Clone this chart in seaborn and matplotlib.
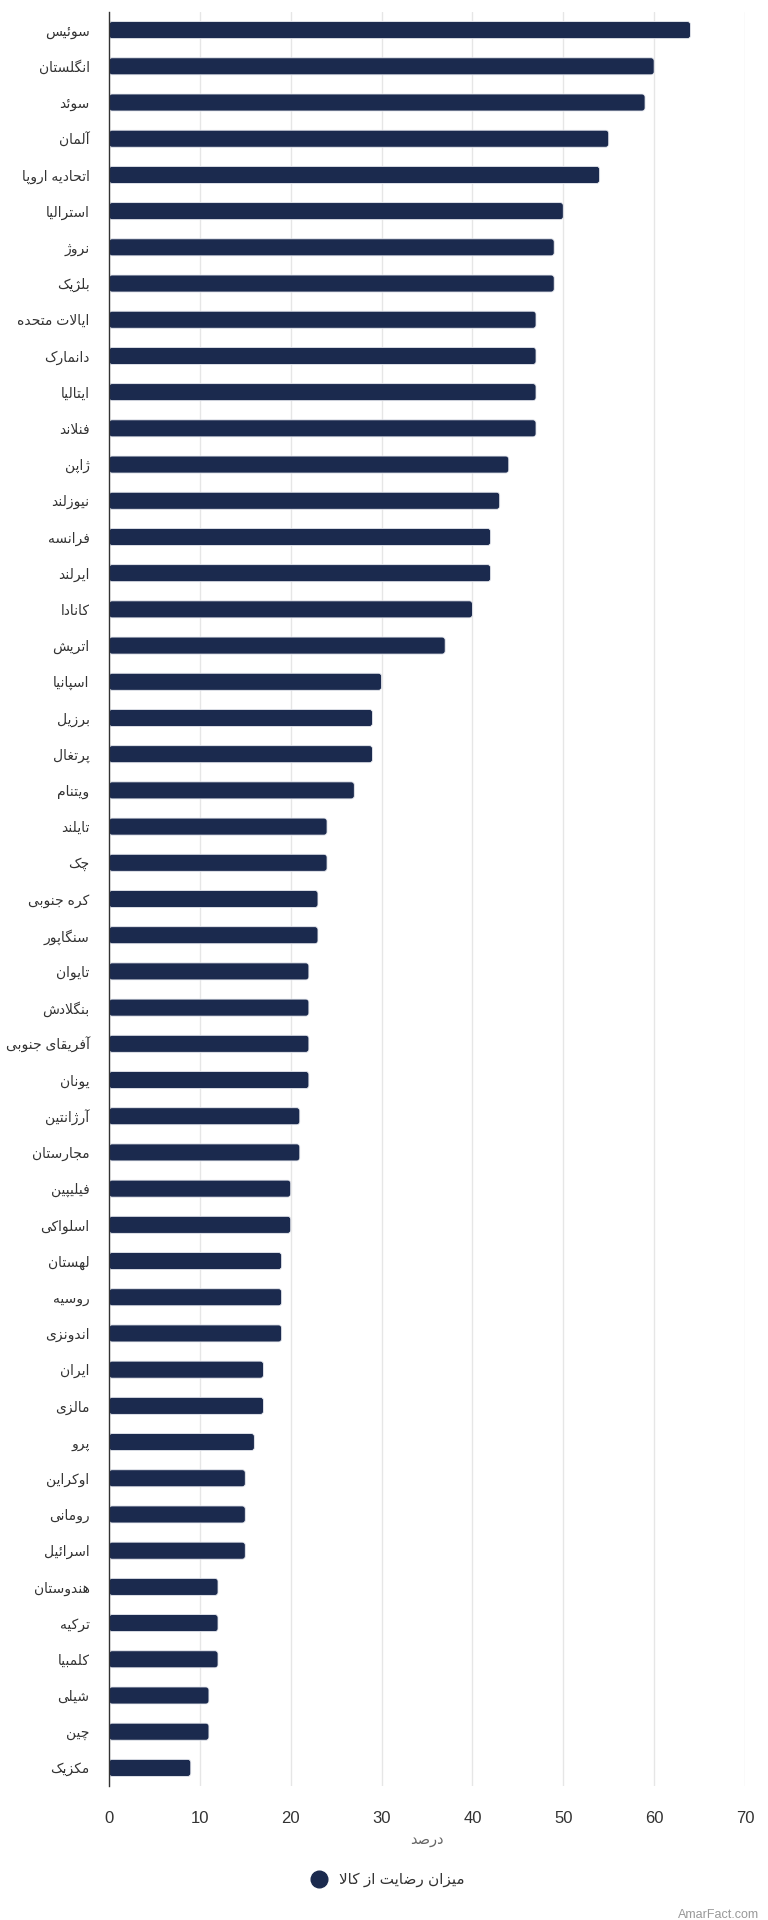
import matplotlib
matplotlib.use("Agg")
import matplotlib.pyplot as plt
from matplotlib.lines import Line2D
from matplotlib.patches import FancyBboxPatch
import pandas as pd
import seaborn as sns

countries = [
    "سوئیس", "انگلستان", "سوئد", "آلمان", "اتحادیه اروپا", "استرالیا", "نروژ",
    "بلژیک", "ایالات متحده", "دانمارک", "ایتالیا", "فنلاند", "ژاپن", "نیوزلند",
    "فرانسه", "ایرلند", "کانادا", "اتریش", "اسپانیا", "برزیل", "پرتغال",
    "ویتنام", "تایلند", "چک", "کره جنوبی", "سنگاپور", "تایوان", "بنگلادش",
    "آفریقای جنوبی", "یونان", "آرژانتین", "مجارستان", "فیلیپین", "اسلواکی",
    "لهستان", "روسیه", "اندونزی", "ایران", "مالزی", "پرو", "اوکراین", "رومانی",
    "اسرائیل", "هندوستان", "ترکیه", "کلمبیا", "شیلی", "چین", "مکزیک",
]
satisfaction = [
    64, 60, 59, 55, 54, 50, 49, 49, 47, 47, 47, 47, 44, 43, 42, 42, 40, 37,
    30, 29, 29, 27, 24, 24, 23, 23, 22, 22, 22, 22, 21, 21, 20, 20, 19, 19,
    19, 17, 17, 16, 15, 15, 15, 12, 12, 12, 11, 11, 9,
]
x_ticks = [0, 10, 20, 30, 40, 50, 60, 70]
x_title = "درصد"
series_name = "میزان رضایت از کالا"
credit = "AmarFact.com"


# matplotlib has no arabic shaping, so pick presentation forms by hand
def _dual(start):
    return tuple(chr(start + k) for k in range(4))


def _right(start):
    return (chr(start), chr(start + 1), None, None)


FORMS = {
    "ء": ("\uFE80", None, None, None),
    "آ": _right(0xFE81), "أ": _right(0xFE83), "ؤ": _right(0xFE85),
    "إ": _right(0xFE87), "ئ": _dual(0xFE89), "ا": _right(0xFE8D),
    "ب": _dual(0xFE8F), "ة": _right(0xFE93), "ت": _dual(0xFE95),
    "ث": _dual(0xFE99), "ج": _dual(0xFE9D), "ح": _dual(0xFEA1),
    "خ": _dual(0xFEA5), "د": _right(0xFEA9), "ذ": _right(0xFEAB),
    "ر": _right(0xFEAD), "ز": _right(0xFEAF), "س": _dual(0xFEB1),
    "ش": _dual(0xFEB5), "ص": _dual(0xFEB9), "ض": _dual(0xFEBD),
    "ط": _dual(0xFEC1), "ظ": _dual(0xFEC5), "ع": _dual(0xFEC9),
    "غ": _dual(0xFECD), "ف": _dual(0xFED1), "ق": _dual(0xFED5),
    "ك": _dual(0xFED9), "ل": _dual(0xFEDD), "م": _dual(0xFEE1),
    "ن": _dual(0xFEE5), "ه": _dual(0xFEE9), "و": _right(0xFEED),
    "ى": _right(0xFEEF), "ي": _dual(0xFEF1),
    "پ": _dual(0xFB56), "چ": _dual(0xFB7A), "ژ": _right(0xFB8A),
    "ک": _dual(0xFB8E), "گ": _dual(0xFB92), "ی": _dual(0xFBFC),
}
LAM_ALEF = {"ا": ("\uFEFB", "\uFEFC"), "آ": ("\uFEF5", "\uFEF6"),
            "أ": ("\uFEF7", "\uFEF8"), "إ": ("\uFEF9", "\uFEFA")}


def shape(text):
    chars = list(text)
    out = []
    i = 0
    while i < len(chars):
        c = chars[i]
        if c not in FORMS:
            out.append(c)
            i += 1
            continue
        prev = chars[i - 1] if i > 0 else ""
        jp = prev in FORMS and FORMS[prev][2] is not None and FORMS[c][1] is not None
        if c == "ل" and i + 1 < len(chars) and chars[i + 1] in LAM_ALEF:
            iso, fin = LAM_ALEF[chars[i + 1]]
            out.append(fin if jp else iso)
            i += 2
            continue
        nxt = chars[i + 1] if i + 1 < len(chars) else ""
        jn = FORMS[c][2] is not None and nxt in FORMS and FORMS[nxt][1] is not None
        iso, fin, ini, med = FORMS[c]
        out.append(med if (jp and jn) else fin if jp else ini if jn else iso)
        i += 1
    return "".join(out)[::-1]


sns.set_style("white")
plt.rcParams["font.family"] = ["Liberation Sans", "DejaVu Sans"]

bar_color = "#1b2a4e"
df = pd.DataFrame({"country": [shape(c) for c in countries], "value": satisfaction})

fig = plt.figure(figsize=(7.68, 19.2), dpi=100)
ax = fig.add_axes([109 / 768, 1 - 1786 / 1920, 636 / 768, 1774 / 1920])

sns.barplot(data=df, x="value", y="country", color=bar_color, width=0.47,
            edgecolor="white", linewidth=0.8, saturation=1, orient="h", ax=ax)

# swap the plain bars for ones with slightly rounded corners
ax.set_xlim(0, 70)
px_x = 70 / 636
px_y = 49 / 1774
for bar in list(ax.patches):
    x0, y0 = bar.get_x(), bar.get_y()
    w, h = bar.get_width(), bar.get_height()
    rounded = FancyBboxPatch((x0, y0), w, h,
                             boxstyle=f"round,pad=0,rounding_size={3 * px_x}",
                             mutation_aspect=px_y / px_x,
                             facecolor=bar.get_facecolor(), edgecolor="#e8eaf0",
                             linewidth=0.6, zorder=bar.get_zorder())
    bar.remove()
    ax.add_patch(rounded)

ax.set_xticks(x_ticks)
ax.grid(axis="x", color="#e6e6e6", linewidth=1)
ax.set_axisbelow(True)
for side in ["top", "right", "bottom"]:
    ax.spines[side].set_visible(False)
ax.spines["left"].set_color("#333333")
ax.spines["left"].set_linewidth(1)
ax.spines["left"].set_zorder(5)
ax.tick_params(axis="both", length=0)
ax.tick_params(axis="y", labelsize=10, labelcolor="#333333", pad=14)
ax.tick_params(axis="x", labelsize=12, labelcolor="#333333", pad=18)
ax.set_ylabel("")
ax.set_xlabel(shape(x_title), fontsize=10.5, color="#666666", labelpad=5)

handle = Line2D([], [], marker="o", linestyle="", markersize=12, color=bar_color)
fig.legend(handles=[handle], labels=[shape(series_name)], loc="center",
           bbox_to_anchor=(0.5, 1 - 1880 / 1920), frameon=False, fontsize=11,
           handletextpad=0.3, labelcolor="#333333")
fig.text(759 / 768, 1 - 1915 / 1920, credit, ha="right", va="center",
         fontsize=9, color="#999999")

fig.savefig("out.png", dpi=100)
